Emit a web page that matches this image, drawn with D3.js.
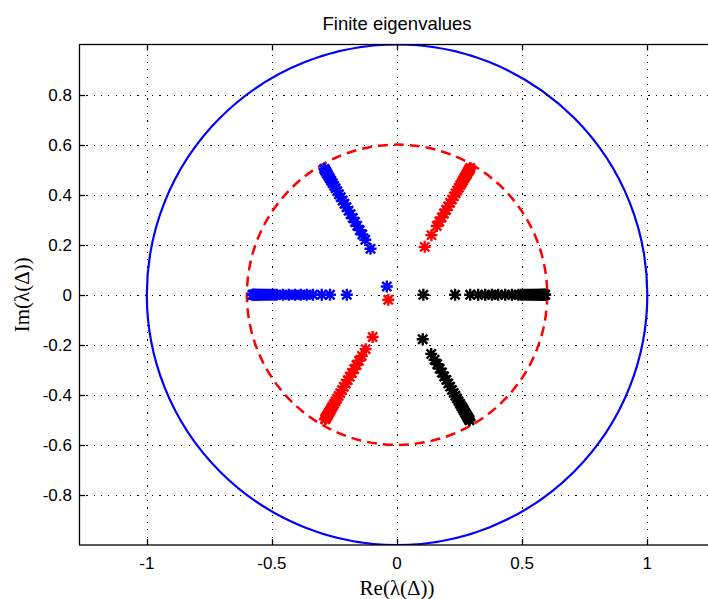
<!DOCTYPE html>
<html>
<head>
<meta charset="utf-8">
<script src="https://cdn.jsdelivr.net/npm/d3@7"></script>
<style>
  html, body { margin: 0; padding: 0; background: #fff; }
  svg { display: block; }
</style>
</head>
<body>
<svg id="chart" width="708" height="599"></svg>
<script>
// Axis limits and ticks
const xLim = [-1.271, 1.27];
const yLim = [-1, 1];
const xTicks = [-1, -0.5, 0, 0.5, 1];
const xTickLabels = ["-1", "-0.5", "0", "0.5", "1"];
const yTicks = [-0.8, -0.6, -0.4, -0.2, 0, 0.2, 0.4, 0.6, 0.8];
const yTickLabels = ["-0.8", "-0.6", "-0.4", "-0.2", "0", "0.2", "0.4", "0.6", "0.8"];

// Reference circles: unit circle and the |λ| = 0.6 bound
const unitRadius = 1;
const boundRadius = 0.6;

// Eigenvalues along each ray: modulus list and argument (degrees)
const rayBlue180 = [0.201, 0.268, 0.301, 0.336, 0.361, 0.385, 0.408, 0.432, 0.456, 0.481,
  0.492, 0.502, 0.512, 0.521, 0.529, 0.537, 0.544, 0.550, 0.556, 0.561, 0.565, 0.569, 0.572, 0.575, 0.578];
const rayBlue120 = [0.212, 0.254, 0.278, 0.298, 0.318, 0.336, 0.354, 0.371, 0.388, 0.404, 0.420,
  0.435, 0.450, 0.464, 0.478, 0.491, 0.503, 0.515, 0.526, 0.536, 0.545, 0.553, 0.560, 0.566, 0.571, 0.575, 0.578, 0.581];
const rayRed60 = [0.221, 0.275, 0.317, 0.338, 0.357, 0.375, 0.392, 0.408, 0.424, 0.439, 0.454,
  0.468, 0.481, 0.494, 0.506, 0.517, 0.527, 0.537, 0.546, 0.554, 0.561, 0.567, 0.572, 0.577, 0.581, 0.585];
const rayRed240 = [0.195, 0.251, 0.282, 0.304, 0.324, 0.343, 0.361, 0.378, 0.394, 0.410, 0.425,
  0.440, 0.454, 0.467, 0.480, 0.492, 0.504, 0.515, 0.525, 0.534, 0.542, 0.550, 0.557, 0.563, 0.568, 0.572, 0.575];
const rayBlack0 = [0.232, 0.292, 0.324, 0.352, 0.379, 0.404, 0.432, 0.459, 0.485,
  0.497, 0.508, 0.518, 0.527, 0.535, 0.543, 0.550, 0.556, 0.562, 0.567, 0.572, 0.576, 0.580, 0.584, 0.587, 0.590, 0.592];
const rayBlack300 = [0.205, 0.273, 0.300, 0.321, 0.341, 0.359, 0.377, 0.393, 0.409, 0.424, 0.439,
  0.453, 0.466, 0.479, 0.491, 0.503, 0.514, 0.524, 0.533, 0.542, 0.550, 0.557, 0.563, 0.568, 0.572, 0.576, 0.579];

// Isolated eigenvalues near the origin [re, im]
const loneBlue = [[-0.041, 0.033]];
const loneRed = [[-0.035, -0.020]];
const loneBlack = [[0.105, 0.0]];

const groups = [
  { color: "#0000ff", rays: [{ r: rayBlue180, deg: 180 }, { r: rayBlue120, deg: 120 }], lone: loneBlue },
  { color: "#ff0000", rays: [{ r: rayRed60, deg: 60 }, { r: rayRed240, deg: 240 }], lone: loneRed },
  { color: "#000000", rays: [{ r: rayBlack0, deg: 0 }, { r: rayBlack300, deg: 300 }], lone: loneBlack }
];

const svg = d3.select("#chart");
const W = 708, H = 599;
svg.append("rect").attr("width", W).attr("height", H).attr("fill", "#fff");

const plotLeft = 79, plotTop = 44.5, plotBottom = 545;
const pxPerUnit = (plotBottom - plotTop) / (yLim[1] - yLim[0]);
const plotRight = plotLeft + (xLim[1] - xLim[0]) * pxPerUnit;

const x = d3.scaleLinear().domain(xLim).range([plotLeft, plotRight]);
const y = d3.scaleLinear().domain(yLim).range([plotBottom, plotTop]);

svg.append("defs").append("clipPath").attr("id", "plotClip")
  .append("rect").attr("x", plotLeft).attr("y", plotTop)
  .attr("width", plotRight - plotLeft).attr("height", plotBottom - plotTop);

// Dotted grid
const grid = svg.append("g").attr("stroke", "#000").attr("stroke-width", 1)
  .attr("stroke-dasharray", "1.2,6.1").attr("shape-rendering", "crispEdges");
grid.selectAll("line.gx").data(xTicks).join("line")
  .attr("x1", d => Math.round(x(d)) + 0.5).attr("x2", d => Math.round(x(d)) + 0.5)
  .attr("y1", plotBottom).attr("y2", plotTop);
grid.selectAll("line.gy").data(yTicks).join("line")
  .attr("y1", d => Math.round(y(d)) + 0.5).attr("y2", d => Math.round(y(d)) + 0.5)
  .attr("x1", plotLeft).attr("x2", plotRight);

const plot = svg.append("g").attr("clip-path", "url(#plotClip)");

// Circles
plot.append("circle")
  .attr("cx", x(0)).attr("cy", y(0)).attr("r", x(unitRadius) - x(0))
  .attr("fill", "none").attr("stroke", "#0000ff").attr("stroke-width", 2.2);
plot.append("circle")
  .attr("cx", x(0)).attr("cy", y(0)).attr("r", x(boundRadius) - x(0))
  .attr("fill", "none").attr("stroke", "#ff0000").attr("stroke-width", 2.5)
  .attr("stroke-dasharray", "10,6");

// Asterisk marker
const s = 6, d = 4.6;
const starPath = `M${-s},0H${s}M0,${-s}V${s}M${-d},${-d}L${d},${d}M${-d},${d}L${d},${-d}`;

groups.forEach(g => {
  const pts = [];
  g.rays.forEach(ray => {
    const a = ray.deg * Math.PI / 180;
    ray.r.forEach(r => pts.push([r * Math.cos(a), r * Math.sin(a)]));
  });
  g.lone.forEach(p => pts.push(p));
  plot.append("g").selectAll("path").data(pts).join("path")
    .attr("d", starPath)
    .attr("transform", p => `translate(${x(p[0])},${y(p[1])})`)
    .attr("fill", "none").attr("stroke", g.color).attr("stroke-width", 2.4);
});

// Axes box (right side lies beyond the page edge)
svg.append("rect").attr("x", plotLeft + 0.5).attr("y", plotTop)
  .attr("width", plotRight - plotLeft).attr("height", plotBottom - plotTop)
  .attr("fill", "none").attr("stroke", "#000").attr("stroke-width", 1.3);

// Inward ticks
const tickLen = 6;
const ticks = svg.append("g").attr("stroke", "#000").attr("stroke-width", 1.3);
xTicks.forEach(t => {
  const px = Math.round(x(t)) + 0.5;
  ticks.append("line").attr("x1", px).attr("x2", px).attr("y1", plotBottom).attr("y2", plotBottom - tickLen);
  ticks.append("line").attr("x1", px).attr("x2", px).attr("y1", plotTop).attr("y2", plotTop + tickLen);
});
yTicks.forEach(t => {
  const py = Math.round(y(t)) + 0.5;
  ticks.append("line").attr("y1", py).attr("y2", py).attr("x1", plotLeft).attr("x2", plotLeft + tickLen);
});

// Tick labels
const tickFont = "'Liberation Sans', Arial, sans-serif";
const serifFont = "'Liberation Serif', 'Times New Roman', serif";
svg.append("g").selectAll("text").data(xTicks).join("text")
  .attr("x", dd => x(dd)).attr("y", 569)
  .attr("text-anchor", "middle").attr("font-family", tickFont).attr("font-size", 17)
  .attr("fill", "#000").text((dd, i) => xTickLabels[i]);
svg.append("g").selectAll("text").data(yTicks).join("text")
  .attr("x", 72).attr("y", dd => y(dd) + 6)
  .attr("text-anchor", "end").attr("font-family", tickFont).attr("font-size", 17)
  .attr("fill", "#000").text((dd, i) => yTickLabels[i]);

// Title and axis labels
svg.append("text").attr("x", x(0)).attr("y", 30)
  .attr("text-anchor", "middle").attr("font-family", tickFont).attr("font-size", 18.5)
  .attr("fill", "#000").text("Finite eigenvalues");
svg.append("text").attr("x", x(0)).attr("y", 595)
  .attr("text-anchor", "middle").attr("font-family", serifFont)
  .attr("font-size", 21).attr("fill", "#000").text("Re(λ(Δ))");
svg.append("text").attr("transform", `translate(29,${y(0)}) rotate(-90)`)
  .attr("text-anchor", "middle").attr("font-family", serifFont)
  .attr("font-size", 21).attr("fill", "#000").text("Im(λ(Δ))");
</script>
</body>
</html>
